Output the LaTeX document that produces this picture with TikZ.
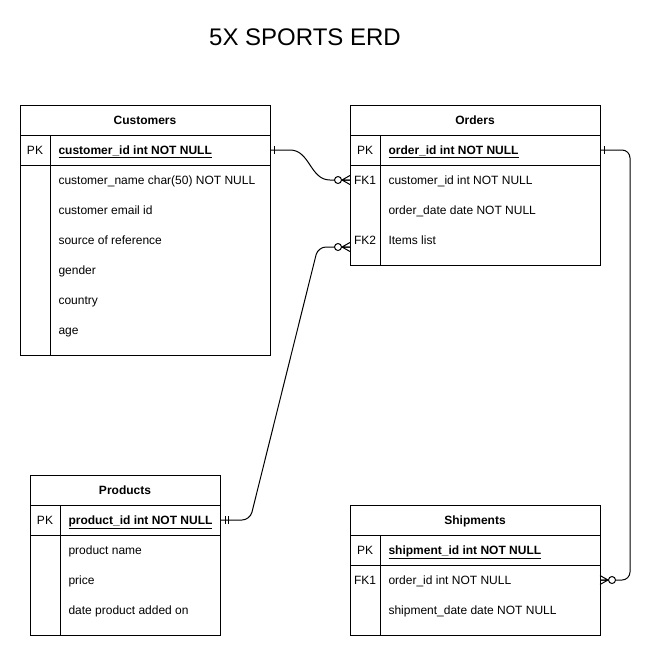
\documentclass[tikz,border=0pt]{standalone}
\usepackage{fontspec}
\setmainfont{Liberation Sans}
\usetikzlibrary{positioning}
\newcommand{\erdfont}{\fontsize{12}{14}\selectfont}

\begin{document}
\begin{tikzpicture}[x=1pt,y=-1pt,line width=1pt,
	tbl/.style={draw,minimum width=250pt,inner sep=0pt,outer sep=0pt,anchor=north west,
		font=\erdfont,text height=8.6pt,text depth=0pt},
	head/.style={tbl,minimum height=30pt,font=\erdfont\bfseries},
	fld/.style={anchor=west,inner sep=0pt,font=\erdfont,text height=8.6pt,text depth=0pt},
	key/.style={inner sep=0pt,font=\erdfont,text height=8.6pt,text depth=0pt},
	pkfld/.style={fld,font=\erdfont\bfseries},
	onebar/.pic={\draw (4,-4) -- (4,4);},
	onlyone/.pic={\draw (5,-4) -- (5,4) (8,-4) -- (8,4);},
	zeromany/.pic={\draw (-8,0) -- (0,0) (-8,0) -- (0,-4.5) (-8,0) -- (0,4.5);
		\draw[fill=white] (-12,0) circle (3.5pt);}]
	\useasboundingbox (0,0) rectangle (660,656);
	\node (title) at (305,37) {\fontsize{24}{28}\selectfont 5X SPORTS ERD};
	% Customers
	\node[head] (cust-head) at (20,105) {Customers};
	\node[tbl,minimum height=30pt,below=0pt of cust-head] (cust-pk) {};
	\node[tbl,minimum height=190pt,below=0pt of cust-pk] (cust-body) {};
	\draw ([xshift=30pt]cust-pk.north west) -- ([xshift=30pt]cust-body.south west);
	\node[key] (c-pk) at (35,150) {PK};
	\node[pkfld] (c-id) at (58,150) {\underline{customer\_id int NOT NULL}};
	\node[fld] (c-name) at (58,180) {customer\_name char(50) NOT NULL};
	\node[fld] (c-mail) at (58,210) {customer email id};
	\node[fld] (c-src) at (58,240) {source of reference};
	\node[fld] (c-gender) at (58,270) {gender};
	\node[fld] (c-country) at (58,300) {country};
	\node[fld] (c-age) at (58,330) {age};
	% Orders
	\node[head] (ord-head) at (350,105) {Orders};
	\node[tbl,minimum height=30pt,below=0pt of ord-head] (ord-pk) {};
	\node[tbl,minimum height=100pt,below=0pt of ord-pk] (ord-body) {};
	\draw ([xshift=30pt]ord-pk.north west) -- ([xshift=30pt]ord-body.south west);
	\node[key] (o-pk) at (365,150) {PK};
	\node[pkfld] (o-id) at (388,150) {\underline{order\_id int NOT NULL}};
	\node[key] (o-fk1) at (365,180) {FK1};
	\node[fld] (o-cust) at (388,180) {customer\_id int NOT NULL};
	\node[fld] (o-date) at (388,210) {order\_date date NOT NULL};
	\node[key] (o-fk2) at (365,240) {FK2};
	\node[fld] (o-items) at (388,240) {Items list};
	% Products
	\node[head,minimum width=190pt] (prod-head) at (30,475) {Products};
	\node[tbl,minimum width=190pt,minimum height=30pt,below=0pt of prod-head] (prod-pk) {};
	\node[tbl,minimum width=190pt,minimum height=100pt,below=0pt of prod-pk] (prod-body) {};
	\draw ([xshift=30pt]prod-pk.north west) -- ([xshift=30pt]prod-body.south west);
	\node[key] (p-pk) at (45,520) {PK};
	\node[pkfld] (p-id) at (68,520) {\underline{product\_id int NOT NULL}};
	\node[fld] (p-name) at (68,550) {product name};
	\node[fld] (p-price) at (68,580) {price};
	\node[fld] (p-added) at (68,610) {date product added on};
	% Shipments
	\node[head] (ship-head) at (350,505) {Shipments};
	\node[tbl,minimum height=30pt,below=0pt of ship-head] (ship-pk) {};
	\node[tbl,minimum height=70pt,below=0pt of ship-pk] (ship-body) {};
	\draw ([xshift=30pt]ship-pk.north west) -- ([xshift=30pt]ship-body.south west);
	\node[key] (s-pk) at (365,550) {PK};
	\node[pkfld] (s-id) at (388,550) {\underline{shipment\_id int NOT NULL}};
	\node[key] (s-fk1) at (365,580) {FK1};
	\node[fld] (s-order) at (388,580) {order\_id int NOT NULL};
	\node[fld] (s-date) at (388,610) {shipment\_date date NOT NULL};
	% relations
	\draw (cust-pk.east) -- ++(20,0) .. controls +(20,0) and +(-20,0) .. ([xshift=-20pt]ord-body.west |- o-fk1) -- (ord-body.west |- o-fk1);
	\pic at (cust-pk.east) {onebar};
	\pic at (ord-body.west |- o-fk1) {zeromany};
	\draw[rounded corners=8pt] (prod-pk.east) -- (250,520) -- (318,247) -- ([yshift=-7pt]ord-body.west |- o-fk2);
	\pic at (prod-pk.east) {onlyone};
	\pic at ([yshift=-7pt]ord-body.west |- o-fk2) {zeromany};
	\draw[rounded corners=8pt] (ord-pk.east) -- (630,150) -- (630,580) -- (ship-body.east |- s-fk1);
	\pic at (ord-pk.east) {onebar};
	\pic[xscale=-1] at (ship-body.east |- s-fk1) {zeromany};
\end{tikzpicture}
\end{document}
